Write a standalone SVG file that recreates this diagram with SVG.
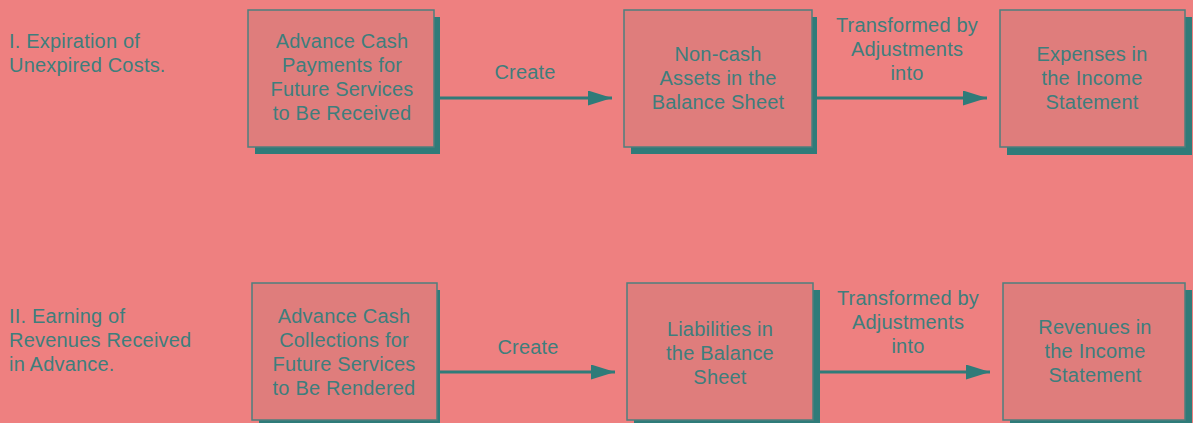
<svg xmlns="http://www.w3.org/2000/svg" width="1193" height="423" viewBox="0 0 1193 423">
<defs>
<style>
.bg{fill:#EE8080}
.shadow{fill:#2F7B79}
.box{fill:#DF7D7C;stroke:#4E7F7D;stroke-width:1.5}
.t{font-family:"Liberation Sans",Arial,sans-serif;font-size:20px;letter-spacing:0.2px;fill:#3E7E7C;text-anchor:middle}
.lbl{font-family:"Liberation Sans",Arial,sans-serif;font-size:20px;letter-spacing:0.2px;fill:#3E7E7C}
.conn{stroke:#2F7B79;stroke-width:3;fill:none}
</style>
<marker id="ah" markerWidth="8" markerHeight="5" refX="8" refY="2.5" orient="auto" markerUnits="strokeWidth">
<path d="M0,0 L8,2.5 L0,5 z" fill="#2F7B79"/>
</marker>
</defs>
<rect class="bg" x="0" y="0" width="1193" height="423"/>

<g id="label-1">
<text class="lbl" x="9" y="48">I. Expiration of</text>
<text class="lbl" x="9" y="72">Unexpired Costs.</text>
</g>
<g id="label-2">
<text class="lbl" x="9" y="323">II. Earning of</text>
<text class="lbl" x="9" y="347">Revenues Received</text>
<text class="lbl" x="9" y="371">in Advance.</text>
</g>

<g id="connectors">
<line class="conn" x1="440" y1="98" x2="612" y2="98" marker-end="url(#ah)"/>
<line class="conn" x1="817" y1="98" x2="987" y2="98" marker-end="url(#ah)"/>
<line class="conn" x1="440" y1="372" x2="615" y2="372" marker-end="url(#ah)"/>
<line class="conn" x1="820" y1="372" x2="990" y2="372" marker-end="url(#ah)"/>
<text class="t" x="525" y="79">Create</text>
<text class="t" x="907" y="32">Transformed by</text>
<text class="t" x="907" y="56">Adjustments</text>
<text class="t" x="907" y="80">into</text>
<text class="t" x="528" y="354">Create</text>
<text class="t" x="908" y="305">Transformed by</text>
<text class="t" x="908" y="329">Adjustments</text>
<text class="t" x="908" y="353">into</text>
</g>

<g id="node-advance-payments">
<rect class="shadow" x="255" y="17" width="185" height="137"/>
<rect class="box" x="248" y="10" width="186" height="137"/>
<text class="t" x="342" y="48">Advance Cash</text>
<text class="t" x="342" y="72">Payments for</text>
<text class="t" x="342" y="96">Future Services</text>
<text class="t" x="342" y="120">to Be Received</text>
</g>
<g id="node-noncash-assets">
<rect class="shadow" x="631" y="17" width="186" height="137"/>
<rect class="box" x="624" y="10" width="188" height="137"/>
<text class="t" x="718" y="61">Non-cash</text>
<text class="t" x="718" y="85">Assets in the</text>
<text class="t" x="718" y="109">Balance Sheet</text>
</g>
<g id="node-expenses">
<rect class="shadow" x="1007" y="17" width="185" height="138"/>
<rect class="box" x="1000" y="10" width="185" height="137"/>
<text class="t" x="1092" y="61">Expenses in</text>
<text class="t" x="1092" y="85">the Income</text>
<text class="t" x="1092" y="109">Statement</text>
</g>

<g id="node-advance-collections">
<rect class="shadow" x="259" y="290" width="181" height="140"/>
<rect class="box" x="252" y="283" width="185" height="137"/>
<text class="t" x="344" y="323">Advance Cash</text>
<text class="t" x="344" y="347">Collections for</text>
<text class="t" x="344" y="371">Future Services</text>
<text class="t" x="344" y="395">to Be Rendered</text>
</g>
<g id="node-liabilities">
<rect class="shadow" x="634" y="290" width="186" height="140"/>
<rect class="box" x="627" y="283" width="186" height="137"/>
<text class="t" x="720" y="336">Liabilities in</text>
<text class="t" x="720" y="360">the Balance</text>
<text class="t" x="720" y="384">Sheet</text>
</g>
<g id="node-revenues">
<rect class="shadow" x="1010" y="290" width="182" height="140"/>
<rect class="box" x="1003" y="283" width="182" height="137"/>
<text class="t" x="1095" y="334">Revenues in</text>
<text class="t" x="1095" y="358">the Income</text>
<text class="t" x="1095" y="382">Statement</text>
</g>
</svg>
